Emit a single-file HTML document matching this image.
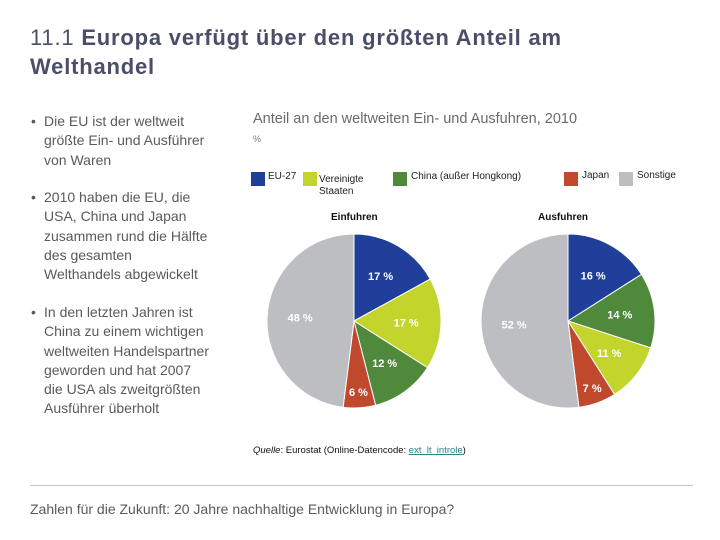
<!DOCTYPE html>
<html><head><meta charset="utf-8">
<style>
body{margin:0;background:#fff;width:720px;height:540px;overflow:hidden;position:relative;font-family:"Liberation Sans",sans-serif}
.abs{position:absolute}
#title{left:30px;top:23px;font-size:22px;line-height:29px;color:#4a4e68;width:600px;letter-spacing:0.8px}
#title b{font-weight:bold}
.bul{left:31px;color:#5a5a5a;font-size:14px;line-height:19.3px;white-space:nowrap}
.bul span{position:absolute;left:0}
.bul div{padding-left:13px}
#ctitle{left:253px;top:111px;font-size:14.5px;color:#6a6a6a}
#pct{left:253px;top:134px;font-size:9px;color:#777}
.leg{font-size:10px;color:#222;line-height:12px;white-space:nowrap}
.sw{position:absolute;width:14px;height:14px}
.ph{font-size:10px;font-weight:bold;color:#111}
#src{left:253px;top:445px;font-size:9.5px;color:#111}
#src a{color:#2a7f8a;text-decoration:underline}
#rule{left:30px;top:485px;width:663px;height:1px;background:#c8c8c8}
#foot{left:30px;top:501px;font-size:14px;color:#5a5a5a}
</style></head><body>
<div id="title" class="abs">11.1 <b>Europa verfügt über den größten Anteil am Welthandel</b></div>
<div class="abs bul" style="top:112px"><span>•</span><div>Die EU ist der weltweit<br>größte Ein- und Ausführer<br>von Waren</div></div>
<div class="abs bul" style="top:188px"><span>•</span><div>2010 haben die EU, die<br>USA, China und Japan<br>zusammen rund die Hälfte<br>des gesamten<br>Welthandels abgewickelt</div></div>
<div class="abs bul" style="top:303px"><span>•</span><div>In den letzten Jahren ist<br>China zu einem wichtigen<br>weltweiten Handelspartner<br>geworden und hat 2007<br>die USA als zweitgrößten<br>Ausführer überholt</div></div>
<div id="ctitle" class="abs">Anteil an den weltweiten Ein- und Ausfuhren, 2010</div>
<div id="pct" class="abs">%</div>

<div class="abs" style="left:0;top:0">
<div class="sw" style="left:251px;top:172px;background:#1f3f9a"></div>
<div class="abs leg" style="left:268px;top:171px">EU-27</div>
<div class="sw" style="left:303px;top:172px;background:#c3d52c"></div>
<div class="abs leg" style="left:319px;top:174px">Vereinigte<br>Staaten</div>
<div class="sw" style="left:393px;top:172px;background:#4f8a3c"></div>
<div class="abs leg" style="left:411px;top:171px">China (außer Hongkong)</div>
<div class="sw" style="left:564px;top:172px;background:#c0482c"></div>
<div class="abs leg" style="left:582px;top:170px">Japan</div>
<div class="sw" style="left:619px;top:172px;background:#bdbec2"></div>
<div class="abs leg" style="left:637px;top:170px">Sonstige</div>
</div>
<div class="abs ph" style="left:331px;top:212px">Einfuhren</div>
<div class="abs ph" style="left:538px;top:212px">Ausfuhren</div>

<svg id="pies" class="abs" style="left:0;top:0" width="720" height="540"></svg>

<div id="src" class="abs"><i>Quelle</i>: Eurostat (Online-Datencode: <a>ext_lt_introle</a>)</div>
<div id="rule" class="abs"></div>
<div id="foot" class="abs">Zahlen für die Zukunft: 20 Jahre nachhaltige Entwicklung in Europa?</div>

<script>
const importCats=["EU-27","Vereinigte Staaten","China","Japan","Sonstige"];
const importVals=[17,17,12,6,48];
const importColors=["#1f3f9a","#c3d52c","#4f8a3c","#c0482c","#bdbec2"];
const exportCats=["EU-27","China","Vereinigte Staaten","Japan","Sonstige"];
const exportVals=[16,14,11,7,52];
const exportColors=["#1f3f9a","#4f8a3c","#c3d52c","#c0482c","#bdbec2"];
const NS="http://www.w3.org/2000/svg";
const svg=document.getElementById('pies');
function pie(cx,cy,r,cats,vals,cols,key){
  const tot=vals.reduce((a,b)=>a+b,0);
  let a0=0;
  vals.forEach((v,i)=>{
    const a1=a0+v/tot*2*Math.PI;
    const p=(a)=>[cx+r*Math.sin(a),cy-r*Math.cos(a)];
    const [x0,y0]=p(a0),[x1,y1]=p(a1);
    const path=document.createElementNS(NS,'path');
    path.setAttribute('d',`M${cx},${cy}L${x0},${y0}A${r},${r} 0 ${a1-a0>Math.PI?1:0} 1 ${x1},${y1}Z`);
    path.setAttribute('fill',cols[i]);
    path.setAttribute('stroke','#fff');
    path.setAttribute('stroke-width','1');
    
    
    svg.appendChild(path);
    const am=(a0+a1)/2, lr=r*(v>40?0.62:(v<8?0.82:0.6));
    const t=document.createElementNS(NS,'text');
    t.setAttribute('x',cx+lr*Math.sin(am));
    t.setAttribute('y',cy-lr*Math.cos(am)+4);
    t.setAttribute('text-anchor','middle');
    t.setAttribute('fill','#fff');
    t.setAttribute('font-size','11');
    t.setAttribute('font-weight','bold');
    t.setAttribute('font-family','Liberation Sans, sans-serif');
    t.textContent=v+' %';
    
    
    svg.appendChild(t);
    a0=a1;
  });
}
pie(354,321,87,importCats,importVals,importColors,'imports');
pie(568,321,87,exportCats,exportVals,exportColors,'exports');
</script>
</body></html>
